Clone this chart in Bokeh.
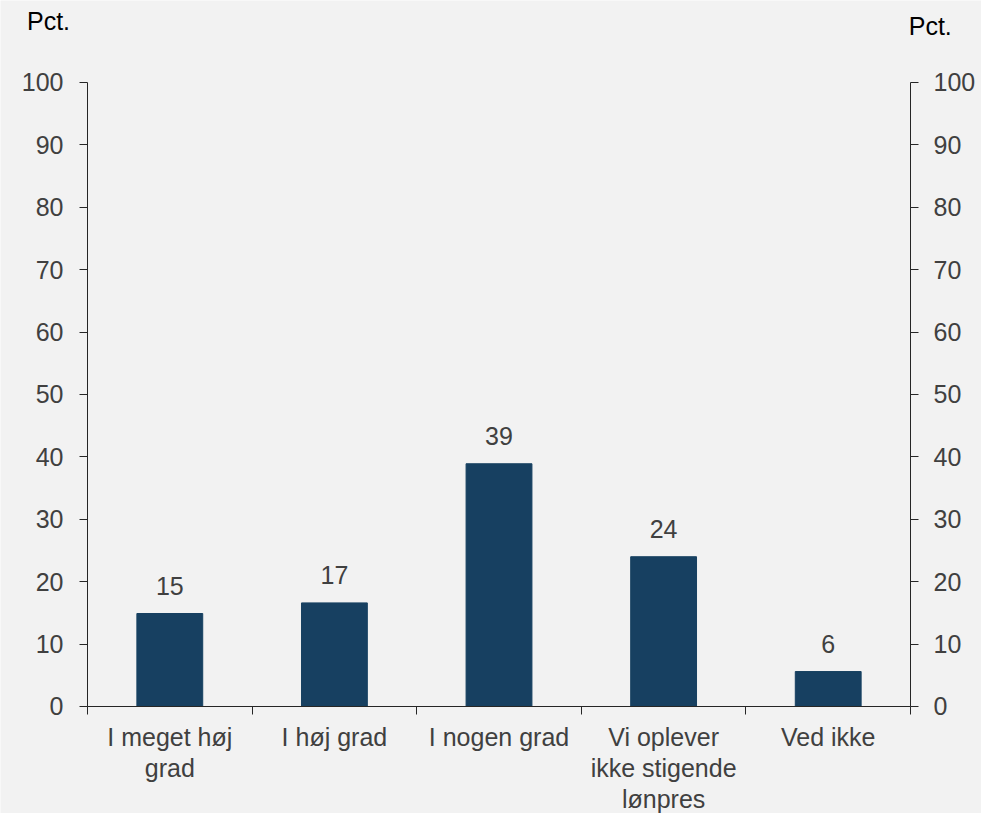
from bokeh.plotting import figure
from bokeh.models import LinearAxis, FixedTicker, Range1d, ColumnDataSource
from bokeh.core.properties import value
from bokeh.embed import file_html
from bokeh.resources import INLINE

categories = ["I meget høj\ngrad", "I høj grad", "I nogen grad",
              "Vi oplever\nikke stigende\nlønpres", "Ved ikke"]
values = [14.9, 16.6, 38.9, 24.0, 5.6]
y_ticks = [0, 10, 20, 30, 40, 50, 60, 70, 80, 90, 100]
unit_label = "Pct."

FONT = "Liberation Sans"
BG = "#f2f2f2"
BAR = "#174061"
TXT = "#404040"
AX = "#262626"
FS = "25px"

n = len(categories)
xs = [i + 0.5 for i in range(n)]
labels = [str(int(round(v))) for v in values]
src = ColumnDataSource(dict(x=xs, top=values, lab=labels))

W, H = 981, 813
# frame fills the whole canvas; axes are placed at fixed data locations
p = figure(width=W, height=H, min_border=0,
           x_range=Range1d(-0.5286, 5.4313), y_range=Range1d(-17.15, 113.14),
           output_backend="svg", toolbar_location=None,
           background_fill_color=BG, border_fill_color=BG, outline_line_color=None,
           x_axis_type=None, y_axis_type=None)
p.grid.visible = False

p.vbar(x="x", top="top", width=0.4, bottom=0, source=src, fill_color=BAR, line_color=BAR)
p.text(x="x", y="top", text="lab", source=src, text_align="center", text_baseline="alphabetic",
       y_offset=-28, text_font=value(FONT), text_font_size=FS, text_color=TXT)

# x axis
xa = LinearAxis(fixed_location=0, bounds=(0, n))
xa.ticker = FixedTicker(ticks=xs, minor_ticks=list(range(n + 1)))
xa.major_label_overrides = {x: c for x, c in zip(xs, categories)}
xa.major_tick_line_color = None
xa.major_tick_out = 0
xa.major_tick_in = 0
xa.minor_tick_out = 8
xa.minor_tick_in = 0
xa.minor_tick_line_color = AX
xa.axis_line_color = AX
xa.major_label_standoff = 9
xa.major_label_text_font = FONT
xa.major_label_text_font_size = FS
xa.major_label_text_color = TXT
xa.major_label_text_line_height = 1.09
p.add_layout(xa, "below")

def make_y(loc, standoff):
    ax = LinearAxis(fixed_location=loc, bounds=(0, 100))
    ax.ticker = FixedTicker(ticks=y_ticks)
    ax.major_tick_out = 8
    ax.major_tick_in = 0
    ax.minor_tick_line_color = None
    ax.major_tick_line_color = AX
    ax.axis_line_color = AX
    ax.major_label_standoff = standoff
    ax.major_label_text_font = FONT
    ax.major_label_text_font_size = FS
    ax.major_label_text_color = TXT
    return ax

p.add_layout(make_y(0, 16), "left")
p.add_layout(make_y(n, 15), "right")

# unit labels above the two value axes
p.text(x=[-0.237], y=[109.9], text=[unit_label], text_align="center", text_baseline="middle",
       text_font=value(FONT), text_font_size=FS, text_color="black")
p.text(x=[n + 0.12], y=[109.1], text=[unit_label], text_align="center", text_baseline="middle",
       text_font=value(FONT), text_font_size=FS, text_color="black")

open("out.html", "w").write(file_html(p, INLINE))
